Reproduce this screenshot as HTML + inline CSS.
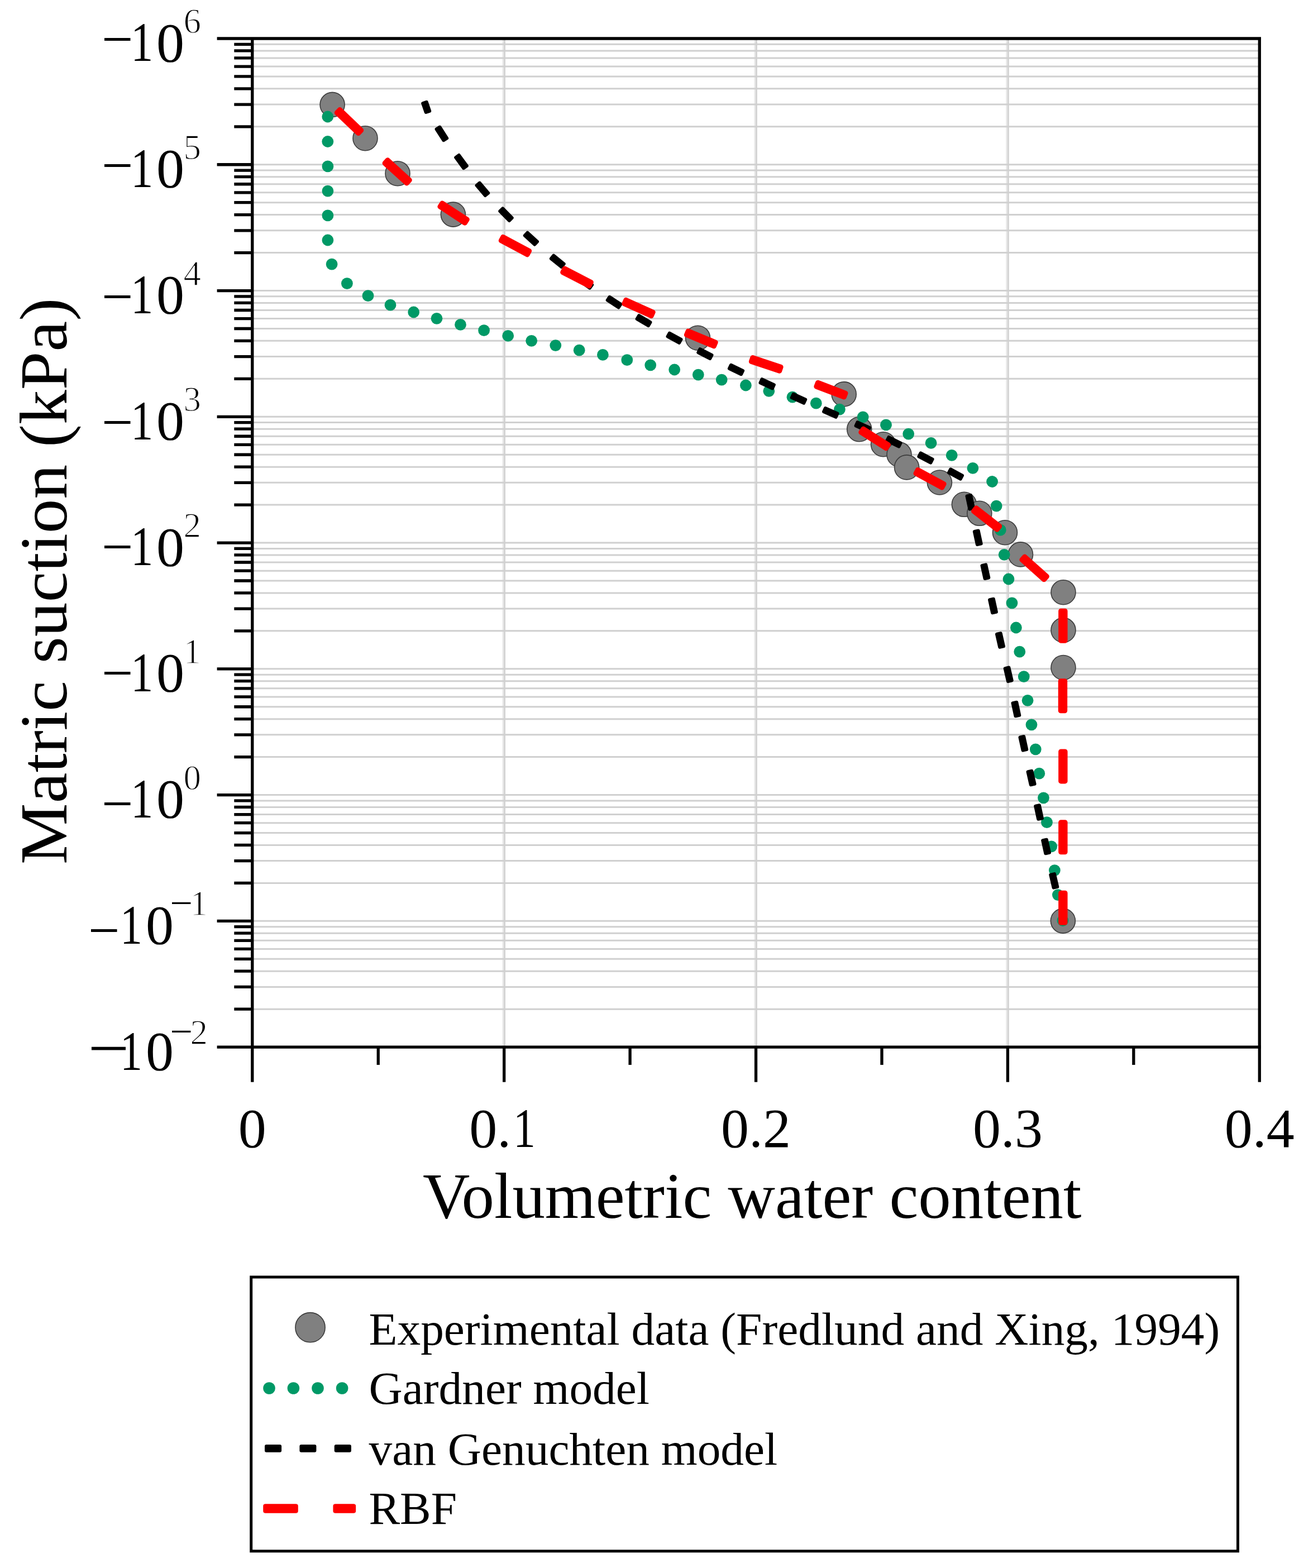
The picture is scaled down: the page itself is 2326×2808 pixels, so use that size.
<!DOCTYPE html>
<html><head><meta charset="utf-8"><title>Matric suction vs volumetric water content</title>
<style>html,body{margin:0;padding:0;background:#fff;}svg{display:block;}</style></head>
<body><svg width="2326" height="2808" viewBox="0 0 2326 2808">
<rect width="2326" height="2808" fill="#fff"/>
<path d="M902.08 69.0V1875.1M1352.95 69.0V1875.1M1803.83 69.0V1875.1" stroke="#e8e8e8" stroke-width="5" fill="none"/>
<path d="M903.58 69.0V1875.1M1354.45 69.0V1875.1M1805.33 69.0V1875.1" stroke="#d4d4d4" stroke-width="3" fill="none"/>
<path d="M451.8 1807.14H2255.3M451.8 1767.38H2255.3M451.8 1739.18H2255.3M451.8 1717.30H2255.3M451.8 1699.42H2255.3M451.8 1684.31H2255.3M451.8 1671.22H2255.3M451.8 1659.67H2255.3M451.8 1649.34H2255.3M451.8 1581.38H2255.3M451.8 1541.62H2255.3M451.8 1513.41H2255.3M451.8 1491.54H2255.3M451.8 1473.66H2255.3M451.8 1458.55H2255.3M451.8 1445.45H2255.3M451.8 1433.91H2255.3M451.8 1423.57H2255.3M451.8 1355.61H2255.3M451.8 1315.86H2255.3M451.8 1287.65H2255.3M451.8 1265.77H2255.3M451.8 1247.90H2255.3M451.8 1232.78H2255.3M451.8 1219.69H2255.3M451.8 1208.14H2255.3M451.8 1197.81H2255.3M451.8 1129.85H2255.3M451.8 1090.10H2255.3M451.8 1061.89H2255.3M451.8 1040.01H2255.3M451.8 1022.14H2255.3M451.8 1007.02H2255.3M451.8 993.93H2255.3M451.8 982.38H2255.3M451.8 972.05H2255.3M451.8 904.09H2255.3M451.8 864.33H2255.3M451.8 836.13H2255.3M451.8 814.25H2255.3M451.8 796.37H2255.3M451.8 781.26H2255.3M451.8 768.17H2255.3M451.8 756.62H2255.3M451.8 746.29H2255.3M451.8 678.33H2255.3M451.8 638.57H2255.3M451.8 610.36H2255.3M451.8 588.49H2255.3M451.8 570.61H2255.3M451.8 555.50H2255.3M451.8 542.40H2255.3M451.8 530.86H2255.3M451.8 520.53H2255.3M451.8 452.56H2255.3M451.8 412.81H2255.3M451.8 384.60H2255.3M451.8 362.72H2255.3M451.8 344.85H2255.3M451.8 329.73H2255.3M451.8 316.64H2255.3M451.8 305.09H2255.3M451.8 294.76H2255.3M451.8 226.80H2255.3M451.8 187.05H2255.3M451.8 158.84H2255.3M451.8 136.96H2255.3M451.8 119.09H2255.3M451.8 103.97H2255.3M451.8 90.88H2255.3M451.8 79.33H2255.3" stroke="#d0d0d0" stroke-width="3" fill="none"/>
<g fill="#808080" stroke="#3c3c3c" stroke-width="1.6">
<circle cx="595.1" cy="187.4" r="22"/>
<circle cx="654" cy="247.7" r="22"/>
<circle cx="712" cy="310.7" r="22"/>
<circle cx="811.4" cy="384.1" r="22"/>
<circle cx="1249.5" cy="605.2" r="22"/>
<circle cx="1511.2" cy="705.9" r="22"/>
<circle cx="1538.7" cy="768.7" r="22"/>
<circle cx="1581.6" cy="795.7" r="22"/>
<circle cx="1610" cy="813.9" r="22"/>
<circle cx="1623.6" cy="836.9" r="22"/>
<circle cx="1682.4" cy="864" r="22"/>
<circle cx="1726.4" cy="903.3" r="22"/>
<circle cx="1753.8" cy="919.3" r="22"/>
<circle cx="1799.5" cy="953.7" r="22"/>
<circle cx="1827.5" cy="992.9" r="22"/>
<circle cx="1904" cy="1060.7" r="22"/>
<circle cx="1904" cy="1128.4" r="22"/>
<circle cx="1904" cy="1195.5" r="22"/>
<circle cx="1903.4" cy="1649.1" r="22"/>
</g>
<g fill="#009966">
<circle cx="586.8" cy="209" r="10.4"/>
<circle cx="586.8" cy="253.5" r="10.4"/>
<circle cx="586.9" cy="297.9" r="10.4"/>
<circle cx="586.9" cy="342.1" r="10.4"/>
<circle cx="586.9" cy="385.9" r="10.4"/>
<circle cx="586.9" cy="430" r="10.4"/>
<circle cx="594.1" cy="473.1" r="10.4"/>
<circle cx="621.4" cy="507.6" r="10.4"/>
<circle cx="659" cy="529.7" r="10.4"/>
<circle cx="699" cy="546.2" r="10.4"/>
<circle cx="740.7" cy="559" r="10.4"/>
<circle cx="782" cy="570.3" r="10.4"/>
<circle cx="824.5" cy="581.4" r="10.4"/>
<circle cx="866.6" cy="591.7" r="10.4"/>
<circle cx="909.7" cy="601.4" r="10.4"/>
<circle cx="951.7" cy="610.3" r="10.4"/>
<circle cx="994.8" cy="618.6" r="10.4"/>
<circle cx="1037.2" cy="627.2" r="10.4"/>
<circle cx="1079.4" cy="635.4" r="10.4"/>
<circle cx="1122.8" cy="644.7" r="10.4"/>
<circle cx="1164.7" cy="653.8" r="10.4"/>
<circle cx="1207.7" cy="662" r="10.4"/>
<circle cx="1250.3" cy="671.1" r="10.4"/>
<circle cx="1292.2" cy="680.1" r="10.4"/>
<circle cx="1335.4" cy="690" r="10.4"/>
<circle cx="1376.8" cy="700.3" r="10.4"/>
<circle cx="1419" cy="711.2" r="10.4"/>
<circle cx="1461.3" cy="722.2" r="10.4"/>
<circle cx="1503.4" cy="733.1" r="10.4"/>
<circle cx="1545.2" cy="746.8" r="10.4"/>
<circle cx="1586.5" cy="760.8" r="10.4"/>
<circle cx="1626.7" cy="777.1" r="10.4"/>
<circle cx="1667.1" cy="793.3" r="10.4"/>
<circle cx="1704.2" cy="815.4" r="10.4"/>
<circle cx="1741.9" cy="838.4" r="10.4"/>
<circle cx="1776.6" cy="862.5" r="10.4"/>
<circle cx="1784.2" cy="906.1" r="10.4"/>
<circle cx="1791.3" cy="949.2" r="10.4"/>
<circle cx="1798.2" cy="993.3" r="10.4"/>
<circle cx="1806" cy="1037" r="10.4"/>
<circle cx="1812" cy="1079.8" r="10.4"/>
<circle cx="1819.4" cy="1124" r="10.4"/>
<circle cx="1825.8" cy="1167.2" r="10.4"/>
<circle cx="1833.3" cy="1211.7" r="10.4"/>
<circle cx="1840.1" cy="1254.4" r="10.4"/>
<circle cx="1847" cy="1297.8" r="10.4"/>
<circle cx="1854.3" cy="1341.8" r="10.4"/>
<circle cx="1860.8" cy="1385.2" r="10.4"/>
<circle cx="1868.5" cy="1428.8" r="10.4"/>
<circle cx="1874.5" cy="1472.7" r="10.4"/>
<circle cx="1882.7" cy="1515.9" r="10.4"/>
<circle cx="1888.4" cy="1558.6" r="10.4"/>
<circle cx="1894.4" cy="1602.6" r="10.4"/>
<circle cx="1903" cy="1648.5" r="10.4"/>
</g>
<path d="M762.7 201.0 L769.2 198.8 L763.7 182.8 L757.2 185.0ZM794.3 251.2 L800.2 247.5 L787.5 227.6 L781.6 231.3ZM830.2 301.2 L835.8 297.1 L821.8 278.0 L816.2 282.1ZM868.9 350.0 L874.2 345.6 L858.9 327.6 L853.6 332.0ZM911.8 395.0 L916.7 390.2 L900.2 373.4 L895.3 378.2ZM957.3 437.8 L962.0 432.7 L944.5 416.8 L939.8 421.9ZM1005.3 477.9 L1009.7 472.5 L991.3 457.7 L986.9 463.1ZM1056.0 515.7 L1060.1 510.1 L1041.0 496.3 L1036.9 501.9ZM1107.5 550.6 L1111.3 544.8 L1091.5 531.8 L1087.7 537.6ZM1160.9 583.2 L1164.4 577.2 L1144.1 565.2 L1140.6 571.2ZM1216.2 613.8 L1219.5 607.8 L1198.8 596.6 L1195.5 602.6ZM1271.3 642.1 L1274.5 635.9 L1253.5 625.1 L1250.3 631.3ZM1327.1 670.2 L1330.1 664.0 L1308.9 653.8 L1305.9 660.0ZM1383.0 695.4 L1385.9 689.1 L1364.4 679.2 L1361.5 685.5ZM1439.3 721.8 L1442.2 715.5 L1420.7 705.8 L1417.8 712.1ZM1496.7 746.8 L1499.5 740.5 L1477.9 731.0 L1475.1 737.3ZM1554.1 772.3 L1557.0 766.0 L1535.5 756.1 L1532.6 762.4ZM1609.4 799.6 L1612.5 793.4 L1591.4 783.0 L1588.3 789.2ZM1666.4 828.5 L1669.6 822.4 L1648.6 811.5 L1645.4 817.6ZM1719.7 857.7 L1723.0 851.6 L1702.3 840.3 L1699.0 846.4ZM1736.4 911.6 L1743.1 910.1 L1738.2 887.0 L1731.5 888.5ZM1749.9 975.1 L1756.7 973.6 L1751.7 950.5 L1744.9 952.0ZM1763.6 1036.0 L1770.3 1034.5 L1765.2 1011.4 L1758.5 1012.9ZM1777.1 1097.4 L1783.9 1095.9 L1778.9 1072.8 L1772.1 1074.3ZM1790.2 1158.9 L1797.0 1157.4 L1791.8 1134.3 L1785.0 1135.8ZM1805.0 1220.1 L1811.7 1218.5 L1806.4 1195.5 L1799.7 1197.1ZM1818.5 1282.3 L1825.3 1280.8 L1820.3 1257.7 L1813.5 1259.2ZM1831.6 1343.6 L1838.3 1342.1 L1833.2 1319.0 L1826.5 1320.5ZM1845.8 1405.4 L1852.6 1403.9 L1847.4 1380.8 L1840.6 1382.3ZM1859.2 1466.8 L1866.0 1465.3 L1861.0 1442.2 L1854.2 1443.7ZM1872.3 1528.3 L1879.0 1526.8 L1873.9 1503.7 L1867.2 1505.2ZM1886.6 1589.7 L1893.3 1588.1 L1888.0 1565.1 L1881.3 1566.7Z" fill="#000" stroke="#000" stroke-width="6" stroke-linejoin="round"/>
<path d="M641.6 238.6 L646.7 233.3 L608.4 196.6 L603.3 201.9ZM728.3 328.0 L733.3 322.5 L694.1 286.8 L689.1 292.3ZM832.3 399.2 L836.3 393.0 L791.9 363.9 L787.9 370.1ZM944.1 455.9 L947.6 449.4 L900.8 424.4 L897.3 430.9ZM1054.9 512.0 L1058.3 505.4 L1011.1 481.1 L1007.7 487.7ZM1166.2 565.7 L1169.2 559.0 L1120.8 537.3 L1117.8 544.0ZM1278.4 619.9 L1281.2 613.1 L1232.2 592.9 L1229.4 599.7ZM1395.7 664.2 L1398.1 657.2 L1347.8 640.5 L1345.4 647.5ZM1511.4 711.0 L1514.0 704.1 L1464.5 685.3 L1461.9 692.2ZM1586.5 802.8 L1590.5 796.6 L1545.8 768.1 L1541.8 774.3ZM1686.6 873.1 L1690.1 866.6 L1643.5 841.4 L1640.0 847.9ZM1785.2 948.2 L1789.7 942.4 L1748.0 909.7 L1743.5 915.5ZM1869.5 1037.8 L1874.4 1032.3 L1834.8 997.0 L1829.9 1002.5ZM1899.7 1147.2 L1907.1 1147.2 L1907.1 1094.2 L1899.7 1094.2ZM1899.3 1272.8 L1906.7 1272.8 L1906.7 1219.8 L1899.3 1219.8ZM1899.7 1398.9 L1907.1 1398.9 L1907.1 1345.9 L1899.7 1345.9ZM1899.7 1525.7 L1907.1 1525.7 L1907.1 1472.7 L1899.7 1472.7ZM1899.7 1652.3 L1907.1 1652.3 L1907.1 1599.3 L1899.7 1599.3Z" fill="#ff0000" stroke="#ff0000" stroke-width="9" stroke-linejoin="round"/>
<path d="M388.6 69.0H2258.0M388.6 1875.1H2258.0M451.8 66.35V1937.8M2255.3 66.35V1937.8M388.6 1649.34H451.8M388.6 1423.57H451.8M388.6 1197.81H451.8M388.6 972.05H451.8M388.6 746.29H451.8M388.6 520.53H451.8M388.6 294.76H451.8M419.3 1807.14H451.8M419.3 1767.38H451.8M419.3 1739.18H451.8M419.3 1717.30H451.8M419.3 1699.42H451.8M419.3 1684.31H451.8M419.3 1671.22H451.8M419.3 1659.67H451.8M419.3 1581.38H451.8M419.3 1541.62H451.8M419.3 1513.41H451.8M419.3 1491.54H451.8M419.3 1473.66H451.8M419.3 1458.55H451.8M419.3 1445.45H451.8M419.3 1433.91H451.8M419.3 1355.61H451.8M419.3 1315.86H451.8M419.3 1287.65H451.8M419.3 1265.77H451.8M419.3 1247.90H451.8M419.3 1232.78H451.8M419.3 1219.69H451.8M419.3 1208.14H451.8M419.3 1129.85H451.8M419.3 1090.10H451.8M419.3 1061.89H451.8M419.3 1040.01H451.8M419.3 1022.14H451.8M419.3 1007.02H451.8M419.3 993.93H451.8M419.3 982.38H451.8M419.3 904.09H451.8M419.3 864.33H451.8M419.3 836.13H451.8M419.3 814.25H451.8M419.3 796.37H451.8M419.3 781.26H451.8M419.3 768.17H451.8M419.3 756.62H451.8M419.3 678.33H451.8M419.3 638.57H451.8M419.3 610.36H451.8M419.3 588.49H451.8M419.3 570.61H451.8M419.3 555.50H451.8M419.3 542.40H451.8M419.3 530.86H451.8M419.3 452.56H451.8M419.3 412.81H451.8M419.3 384.60H451.8M419.3 362.72H451.8M419.3 344.85H451.8M419.3 329.73H451.8M419.3 316.64H451.8M419.3 305.09H451.8M419.3 226.80H451.8M419.3 187.05H451.8M419.3 158.84H451.8M419.3 136.96H451.8M419.3 119.09H451.8M419.3 103.97H451.8M419.3 90.88H451.8M419.3 79.33H451.8M902.68 1875.1V1937.8M1353.55 1875.1V1937.8M1804.42 1875.1V1937.8M677.24 1875.1V1907M1128.11 1875.1V1907M1578.99 1875.1V1907M2029.86 1875.1V1907" stroke="#000" stroke-width="5.3" fill="none"/>
<text x="182.0" y="103.8" font-size="100" font-family="'Liberation Serif','Times New Roman',serif">&#8722;</text>
<text x="229.1" y="109.5" font-size="100" font-family="'Liberation Serif','Times New Roman',serif" transform="translate(255.5 0) scale(0.8 1) translate(-255.5 0)">1</text>
<text x="280.0" y="109.5" font-size="100" font-family="'Liberation Serif','Times New Roman',serif">0</text>
<text x="328.6" y="59.0" font-size="63" font-family="'Liberation Serif','Times New Roman',serif" stroke="#fff" stroke-width="1.4">6</text>
<text x="182.0" y="330.1" font-size="100" font-family="'Liberation Serif','Times New Roman',serif">&#8722;</text>
<text x="229.1" y="335.3" font-size="100" font-family="'Liberation Serif','Times New Roman',serif" transform="translate(255.5 0) scale(0.8 1) translate(-255.5 0)">1</text>
<text x="280.0" y="335.3" font-size="100" font-family="'Liberation Serif','Times New Roman',serif">0</text>
<text x="328.6" y="284.8" font-size="63" font-family="'Liberation Serif','Times New Roman',serif" stroke="#fff" stroke-width="1.4">5</text>
<text x="182.0" y="564.5" font-size="100" font-family="'Liberation Serif','Times New Roman',serif">&#8722;</text>
<text x="229.1" y="561.0" font-size="100" font-family="'Liberation Serif','Times New Roman',serif" transform="translate(255.5 0) scale(0.8 1) translate(-255.5 0)">1</text>
<text x="280.0" y="561.0" font-size="100" font-family="'Liberation Serif','Times New Roman',serif">0</text>
<text x="328.6" y="510.5" font-size="63" font-family="'Liberation Serif','Times New Roman',serif" stroke="#fff" stroke-width="1.4">4</text>
<text x="182.0" y="790.1" font-size="100" font-family="'Liberation Serif','Times New Roman',serif">&#8722;</text>
<text x="229.1" y="786.8" font-size="100" font-family="'Liberation Serif','Times New Roman',serif" transform="translate(255.5 0) scale(0.8 1) translate(-255.5 0)">1</text>
<text x="280.0" y="786.8" font-size="100" font-family="'Liberation Serif','Times New Roman',serif">0</text>
<text x="328.6" y="736.3" font-size="63" font-family="'Liberation Serif','Times New Roman',serif" stroke="#fff" stroke-width="1.4">3</text>
<text x="182.0" y="1013.1" font-size="100" font-family="'Liberation Serif','Times New Roman',serif">&#8722;</text>
<text x="229.1" y="1012.5" font-size="100" font-family="'Liberation Serif','Times New Roman',serif" transform="translate(255.5 0) scale(0.8 1) translate(-255.5 0)">1</text>
<text x="280.0" y="1012.5" font-size="100" font-family="'Liberation Serif','Times New Roman',serif">0</text>
<text x="328.6" y="962.0" font-size="63" font-family="'Liberation Serif','Times New Roman',serif" stroke="#fff" stroke-width="1.4">2</text>
<text x="182.0" y="1238.9" font-size="100" font-family="'Liberation Serif','Times New Roman',serif">&#8722;</text>
<text x="229.1" y="1238.3" font-size="100" font-family="'Liberation Serif','Times New Roman',serif" transform="translate(255.5 0) scale(0.8 1) translate(-255.5 0)">1</text>
<text x="280.0" y="1238.3" font-size="100" font-family="'Liberation Serif','Times New Roman',serif">0</text>
<text x="328.6" y="1187.8" font-size="63" font-family="'Liberation Serif','Times New Roman',serif" stroke="#fff" stroke-width="1.4">1</text>
<text x="182.0" y="1473.2" font-size="100" font-family="'Liberation Serif','Times New Roman',serif">&#8722;</text>
<text x="229.1" y="1464.1" font-size="100" font-family="'Liberation Serif','Times New Roman',serif" transform="translate(255.5 0) scale(0.8 1) translate(-255.5 0)">1</text>
<text x="280.0" y="1464.1" font-size="100" font-family="'Liberation Serif','Times New Roman',serif">0</text>
<text x="328.6" y="1413.6" font-size="63" font-family="'Liberation Serif','Times New Roman',serif" stroke="#fff" stroke-width="1.4">0</text>
<text x="158.0" y="1699.6" font-size="100" font-family="'Liberation Serif','Times New Roman',serif">&#8722;</text>
<text x="209.7" y="1689.8" font-size="100" font-family="'Liberation Serif','Times New Roman',serif" transform="translate(236.1 0) scale(0.8 1) translate(-236.1 0)">1</text>
<text x="261.0" y="1689.8" font-size="100" font-family="'Liberation Serif','Times New Roman',serif">0</text>
<text x="305.0" y="1637.6" font-size="63" font-family="'Liberation Serif','Times New Roman',serif" transform="translate(308.1 0) scale(1.14 1) translate(-308.1 0)">&#8722;</text>
<text x="340.5" y="1639.3" font-size="63" font-family="'Liberation Serif','Times New Roman',serif" stroke="#fff" stroke-width="1.4">1</text>
<text x="158.0" y="1910.9" font-size="100" font-family="'Liberation Serif','Times New Roman',serif" transform="translate(158.0 0) scale(1.29 1) translate(-158.0 0)" stroke="#000" stroke-width="0.8">&#8722;</text>
<text x="209.7" y="1915.6" font-size="100" font-family="'Liberation Serif','Times New Roman',serif" transform="translate(236.1 0) scale(0.8 1) translate(-236.1 0)">1</text>
<text x="261.0" y="1915.6" font-size="100" font-family="'Liberation Serif','Times New Roman',serif">0</text>
<text x="305.0" y="1867.8" font-size="63" font-family="'Liberation Serif','Times New Roman',serif" transform="translate(308.1 0) scale(1.14 1) translate(-308.1 0)">&#8722;</text>
<text x="340.5" y="1869.6" font-size="63" font-family="'Liberation Serif','Times New Roman',serif" stroke="#fff" stroke-width="1.4">2</text>
<text x="451.8" y="2054" font-size="100" text-anchor="middle" font-family="'Liberation Serif','Times New Roman',serif">0</text>
<text x="1353.6" y="2054" font-size="100" text-anchor="middle" font-family="'Liberation Serif','Times New Roman',serif">0.2</text>
<text x="1804.4" y="2054" font-size="100" text-anchor="middle" font-family="'Liberation Serif','Times New Roman',serif">0.3</text>
<text x="2255.3" y="2054" font-size="100" text-anchor="middle" font-family="'Liberation Serif','Times New Roman',serif">0.4</text>
<text x="840.2" y="2054" font-size="100" font-family="'Liberation Serif','Times New Roman',serif">0.</text>
<text x="913.7" y="2054" font-size="100" font-family="'Liberation Serif','Times New Roman',serif" transform="translate(940.1 0) scale(0.8 1) translate(-940.1 0)">1</text>
<text x="1346.8" y="2180.7" font-size="116.9" text-anchor="middle" font-family="'Liberation Serif','Times New Roman',serif">Volumetric water content</text>
<text transform="translate(118.9 1040.9) rotate(-90) scale(1 0.975)" x="0" y="0" font-size="123.4" text-anchor="middle" font-family="'Liberation Serif','Times New Roman',serif">Matric suction (kPa)</text>
<rect x="449.7" y="2287" width="1766.8" height="490.8" fill="#fff" stroke="#000" stroke-width="5"/>
<circle cx="555.5" cy="2377.2" r="26.6" fill="#808080" stroke="#3c3c3c" stroke-width="1.6"/>
<circle cx="482" cy="2486" r="10.8" fill="#009966"/>
<circle cx="525.4" cy="2486" r="10.8" fill="#009966"/>
<circle cx="569" cy="2486" r="10.8" fill="#009966"/>
<circle cx="612.6" cy="2486" r="10.8" fill="#009966"/>
<path d="M501.1 2597.7 L501.1 2590.1 L477.0 2590.1 L477.0 2597.7Z" fill="#000" stroke="#000" stroke-width="6" stroke-linejoin="round"/>
<path d="M563.4 2597.7 L563.4 2590.1 L539.4 2590.1 L539.4 2597.7Z" fill="#000" stroke="#000" stroke-width="6" stroke-linejoin="round"/>
<path d="M625.9 2597.7 L625.9 2590.1 L601.7 2590.1 L601.7 2597.7Z" fill="#000" stroke="#000" stroke-width="6" stroke-linejoin="round"/>
<path d="M529.8 2705.8 L529.8 2697.2 L475.2 2697.2 L475.2 2705.8Z" fill="#ff0000" stroke="#ff0000" stroke-width="8" stroke-linejoin="round"/>
<path d="M633.2 2705.8 L633.2 2697.2 L600.4 2697.2 L600.4 2705.8Z" fill="#ff0000" stroke="#ff0000" stroke-width="8" stroke-linejoin="round"/>
<text x="660.5" y="2407.6" font-size="83.4" font-family="'Liberation Serif','Times New Roman',serif">Experimental data (Fredlund and Xing, 1994)</text>
<text x="660.5" y="2514.3" font-size="83.4" font-family="'Liberation Serif','Times New Roman',serif">Gardner model</text>
<text x="660.5" y="2622.5" font-size="83.4" font-family="'Liberation Serif','Times New Roman',serif">van Genuchten model</text>
<text x="660.5" y="2729" font-size="83.4" font-family="'Liberation Serif','Times New Roman',serif">RBF</text>
</svg></body></html>
